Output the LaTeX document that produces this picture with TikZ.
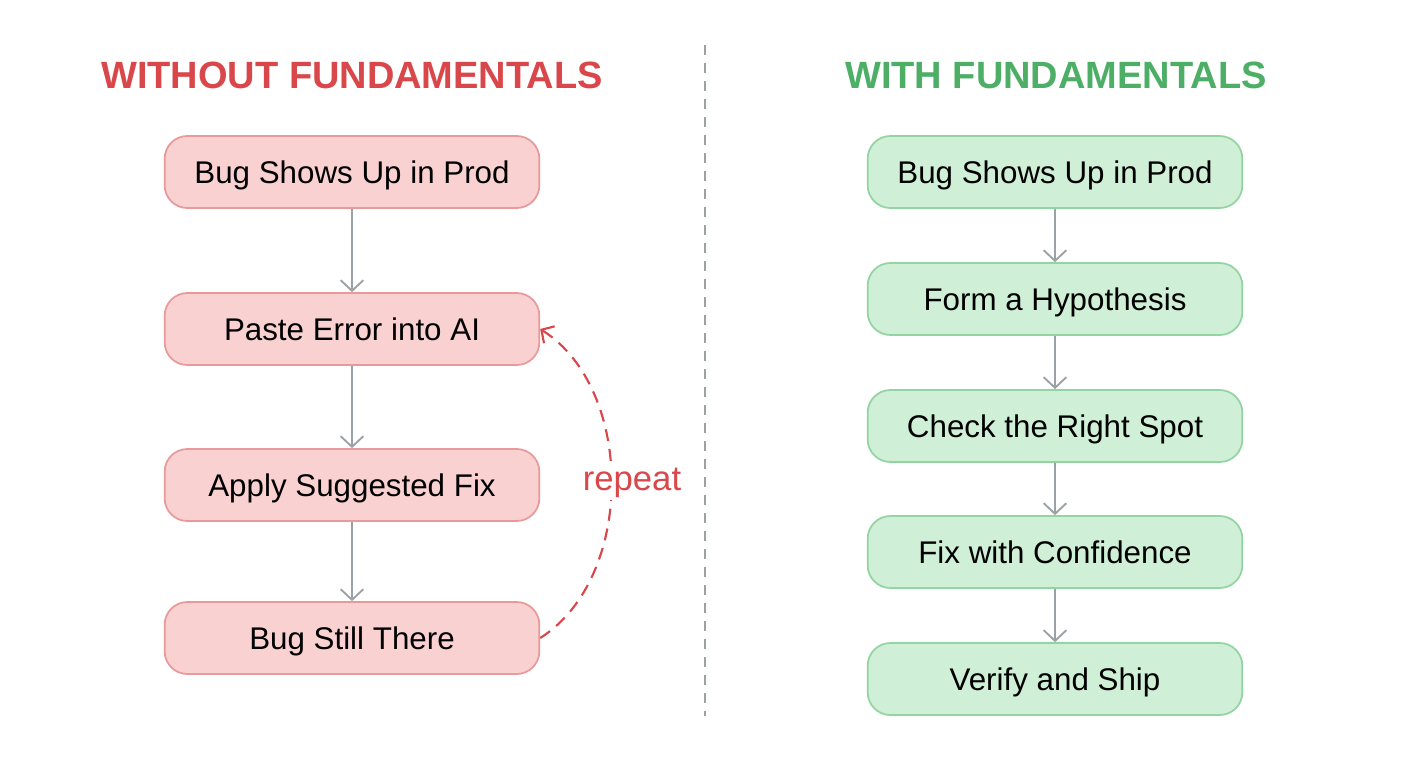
\documentclass[tikz,border=0pt]{standalone}
\usepackage{fontspec}
\setmainfont{Liberation Sans}
\usetikzlibrary{arrows.meta}
\definecolor{redfill}{HTML}{FAD1D1}
\definecolor{redline}{HTML}{E8999A}
\definecolor{redtitle}{HTML}{D9474B}
\definecolor{greenfill}{HTML}{CFEFD6}
\definecolor{greenline}{HTML}{93D4A3}
\definecolor{greentitle}{HTML}{4DAE66}
\definecolor{arrowgray}{HTML}{9AA2A6}
\definecolor{divgray}{HTML}{9AA2A6}
\tikzset{
  box/.style={rounded corners=17pt, minimum width=281pt, minimum height=54pt, line width=1.3pt, font=\fontsize{23.5}{28}\selectfont, text=black, inner sep=0pt, text height=16.5pt, text depth=0pt},
  redbox/.style={box, draw=redline, fill=redfill},
  greenbox/.style={box, draw=greenline, fill=greenfill},
  title/.style={font=\fontsize{28.5}{34}\selectfont\bfseries},
  flow/.style={draw=arrowgray, line width=1.4pt, -{Straight Barb[length=8pt,width=17pt,line width=1.4pt]}},
  loop/.style={draw=redtitle, line width=1.6pt, dash pattern=on 9pt off 6pt, -{Straight Barb[length=7pt,width=15pt,line width=1.6pt]}},
}
\begin{document}
\begin{tikzpicture}[x=0.75pt,y=-0.75pt]
\useasboundingbox (0,0) rectangle (1408,768);
\fill[white] (0,0) rectangle (1408,768);
% divider
\coordinate (dtop) at (705,45);
\coordinate (dbot) at (705,716);
\draw[divgray, line width=1.5pt, dash pattern=on 7.5pt off 6pt] (dtop) -- (dbot);
% titles
\node[title, text=redtitle] (tl) at (352,75) {WITHOUT FUNDAMENTALS};
\node[title, text=greentitle] (tr) at (1056,75) {WITH FUNDAMENTALS};
% left column
\node[redbox] (l1) at (352,172) {Bug Shows Up in Prod};
\node[redbox] (l2) at (352,329) {Paste Error into AI};
\node[redbox] (l3) at (352,485) {Apply Suggested Fix};
\node[redbox] (l4) at (352,638) {Bug Still There};
\draw[flow] (l1) -- (l2);
\draw[flow] (l2) -- (l3);
\draw[flow] (l3) -- (l4);
\draw[loop] (l4.east) .. controls +(95,-60) and +(95,60) .. (l2.east);
\node[text=redtitle, fill=white, inner sep=2pt, font=\fontsize{26}{30}\selectfont] (rep) at (632,483) {repeat};
% right column
\node[greenbox] (r1) at (1055,172) {Bug Shows Up in Prod};
\node[greenbox] (r2) at (1055,299) {Form a Hypothesis};
\node[greenbox] (r3) at (1055,426) {Check the Right Spot};
\node[greenbox] (r4) at (1055,552) {Fix with Confidence};
\node[greenbox] (r5) at (1055,679) {Verify and Ship};
\draw[flow] (r1) -- (r2);
\draw[flow] (r2) -- (r3);
\draw[flow] (r3) -- (r4);
\draw[flow] (r4) -- (r5);
\end{tikzpicture}
\end{document}
